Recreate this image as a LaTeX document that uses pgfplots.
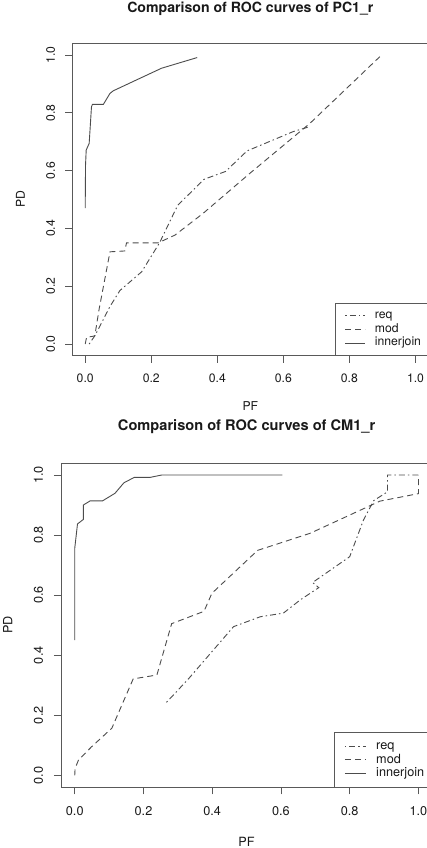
\documentclass[border=0pt]{standalone}
\usepackage{fontspec}
\setmainfont{TeX Gyre Heros}
\usepackage{pgfplots}
\pgfplotsset{compat=1.18}

\definecolor{rline}{gray}{0.30}
\definecolor{rbox}{gray}{0.35}
\definecolor{rtext}{gray}{0.10}

\pgfplotsset{
  rocaxis/.style={
    scale only axis, anchor=south west,
    xmin=-0.04, xmax=1.04, ymin=-0.04, ymax=1.04,
    xtick={0,0.2,0.4,0.6,0.8,1}, ytick={0,0.2,0.4,0.6,0.8,1},
    xticklabels={0.0,0.2,0.4,0.6,0.8,1.0},
    yticklabels={0.0,0.2,0.4,0.6,0.8,1.0},
    tick pos=left, tick align=outside, major tick length=7pt,
    axis line style={rbox, line width=0.8pt},
    every tick/.style={rbox, line width=0.8pt},
    xticklabel style={anchor=base, inner sep=0pt, text=rtext},
    yticklabel style={rotate=90, anchor=base, inner sep=0pt, text=rtext},
    xticklabel shift=20pt, yticklabel shift=10pt,
    label style={text=rtext},
    legend cell align=left,
    legend image code/.code={\path (0pt,0pt); \draw[##1] (2.7pt,0pt) -- (22.7pt,0pt);},
    legend style={at={(axis description cs:1,0)}, anchor=south east,
      draw=rbox, line width=0.8pt, fill=white, text=rtext,
      inner xsep=7.3pt, inner ysep=6.2pt, row sep=1.8pt,
      nodes={inner sep=0pt, text height=9pt, text depth=3pt},
      /tikz/every odd column/.style={column sep=9pt}},
  },
  req/.style={rline, line width=0.9pt, dash pattern=on 1.5pt off 3pt on 6pt off 3pt},
  mod/.style={rline, line width=0.9pt, dash pattern=on 6pt off 4pt},
  ij/.style={rline, line width=0.9pt},
}

\begin{document}
\begin{tikzpicture}[x=1pt,y=1pt]
\useasboundingbox (0,0) rectangle (426,848);

% PC1_r
\begin{axis}[rocaxis,
  at={(72pt,492.4pt)}, width=356.7pt, height=312.2pt,
  every tick label/.append style={font=\fontsize{12.2}{14}\selectfont},
  label style={font=\fontsize{12.2}{14}\selectfont},
  legend style={font=\fontsize{12.2}{14}\selectfont},
  title={Comparison of ROC curves of PC1\_r},
  title style={font=\bfseries\fontsize{14.1}{16}\selectfont, text=rtext,
    at={(axis description cs:0.5,1.0782)}, anchor=base, inner sep=0pt},
  xlabel={PF}, xlabel style={at={(axis description cs:0.5,-0.1765)}, anchor=base, inner sep=0pt},
  ylabel={PD}, ylabel style={at={(axis description cs:-0.1318,0.5)}, rotate=0, anchor=base, inner sep=0pt},
]
\addplot[req] coordinates {
  (0.012,0) (0.03,0.03) (0.075,0.13) (0.105,0.185) (0.171,0.25) (0.225,0.35)
  (0.28,0.48) (0.36,0.57) (0.425,0.597) (0.49,0.668) (0.63,0.735) (0.68,0.752)};
\addlegendentry{req}
\addplot[mod] coordinates {
  (0,0) (0.004,0.023) (0.029,0.028) (0.042,0.12) (0.075,0.319) (0.12,0.322) (0.125,0.35)
  (0.221,0.35) (0.272,0.377) (0.357,0.452) (0.499,0.591) (0.681,0.764) (0.892,0.994)};
\addlegendentry{mod}
\addplot[ij] coordinates {
  (0,0.47) (0.001,0.62) (0.003,0.671) (0.012,0.694) (0.019,0.821) (0.022,0.829)
  (0.055,0.829) (0.075,0.867) (0.085,0.876) (0.156,0.914) (0.231,0.954) (0.339,0.991)};
\addlegendentry{innerjoin}
\end{axis}

% CM1_r
\begin{axis}[rocaxis,
  at={(61pt,60.7pt)}, width=371.2pt, height=324.3pt,
  every tick label/.append style={font=\fontsize{12.7}{14.5}\selectfont},
  label style={font=\fontsize{12.7}{14.5}\selectfont},
  xticklabel shift=20.7pt, yticklabel shift=11pt,
  legend style={font=\fontsize{12.7}{14.5}\selectfont,
    inner xsep=7.6pt, inner ysep=6.95pt, row sep=1.3pt,
    nodes={inner sep=0pt, text height=9.4pt, text depth=3.1pt},
    /tikz/every odd column/.style={column sep=10pt}},
  legend image code/.code={\path (0pt,0pt); \draw[#1] (2.4pt,0pt) -- (23.4pt,0pt);},
  title={Comparison of ROC curves of CM1\_r},
  title style={font=\bfseries\fontsize{14.6}{16.5}\selectfont, text=rtext,
    at={(axis description cs:0.5,1.0802)}, anchor=base, inner sep=0pt},
  xlabel={PF}, xlabel style={at={(axis description cs:0.5,-0.1832)}, anchor=base, inner sep=0pt},
  ylabel={PD}, ylabel style={at={(axis description cs:-0.1312,0.5)}, rotate=0, anchor=base, inner sep=0pt},
]
\addplot[req] coordinates {
  (0.267,0.243) (0.33,0.32) (0.462,0.495) (0.54,0.528) (0.607,0.54) (0.656,0.584)
  (0.71,0.625) (0.692,0.642) (0.80,0.728) (0.84,0.85) (0.87,0.915) (0.91,0.944)
  (0.91,1.0) (1.0,1.0)};
\addlegendentry{req}
\addplot[mod] coordinates {
  (0,0) (0.001,0.023) (0.011,0.051) (0.049,0.095) (0.108,0.157) (0.17,0.321)
  (0.239,0.334) (0.282,0.505) (0.376,0.546) (0.399,0.606) (0.532,0.749) (0.685,0.806)
  (0.888,0.913) (1.0,0.938) (1.0,1.0)};
\addlegendentry{mod}
\addplot[ij] coordinates {
  (0,0.45) (0,0.756) (0.008,0.837) (0.025,0.852) (0.025,0.9) (0.045,0.914) (0.081,0.914)
  (0.117,0.939) (0.143,0.974) (0.173,0.992) (0.219,0.992) (0.253,1.0) (0.604,1.0)};
\addlegendentry{innerjoin}
\end{axis}
\end{tikzpicture}
\end{document}
